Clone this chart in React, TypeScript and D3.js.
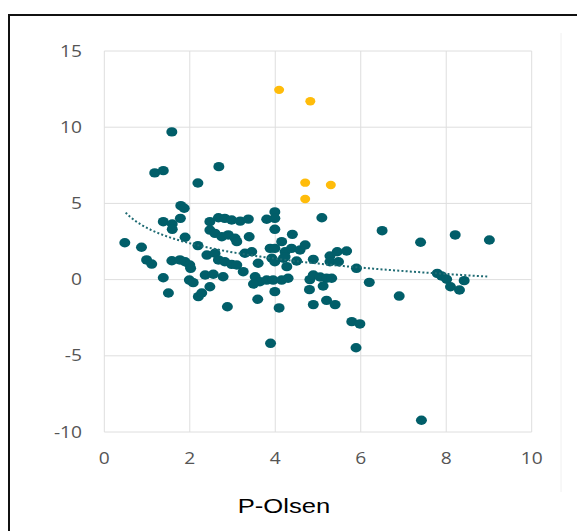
import React, { useRef, useEffect } from 'react';
import * as d3 from 'd3';

// P-Olsen (x) vs response (y)
const tealX = [
  0.48, 0.87, 0.99, 1.11, 1.18, 1.38, 1.38, 1.59, 1.59, 1.58, 1.38, 1.5, 1.58,
  1.77, 1.89, 2.0, 2.02, 1.79, 1.87, 1.78, 1.89, 2.19, 2.19, 1.99, 2.08, 2.2, 2.28,
  2.68, 2.47, 2.67, 2.82, 2.98, 3.18, 3.37, 2.47, 2.59, 2.75, 2.9, 3.06, 3.1, 3.39,
  2.4, 2.59, 2.67, 2.82, 2.98, 3.1, 3.25, 3.29, 3.45, 3.6, 2.36, 2.55, 2.78, 2.47,
  2.88, 3.53, 3.64, 3.49, 3.59,
  3.8, 3.99, 3.99, 3.99, 3.88, 3.99, 3.92, 4.15, 4.23, 4.19, 4.27, 4.4, 4.38, 4.23,
  4.5, 3.99, 3.8, 3.95, 4.15, 4.3, 3.99, 4.09, 3.89,
  4.58, 4.7, 4.89, 5.09, 5.28, 5.45, 5.67, 5.28, 5.48, 4.81, 4.89, 5.05, 5.2, 5.32,
  5.12, 4.8, 4.89, 5.2, 5.4, 5.9, 5.79, 5.98, 5.89, 6.2, 6.5, 6.9, 7.4, 7.79, 7.89,
  8.01, 8.1, 8.31, 8.42, 8.21, 9.01, 7.42,
];
const tealY = [
  2.42, 2.12, 1.29, 1.02, 7.0, 7.15, 3.8, 3.65, 3.3, 9.69, 0.12, -0.88, 1.24,
  1.29, 1.17, 0.96, 0.74, 4.85, 4.68, 4.02, 2.78, 2.23, 6.34, -0.03, -0.2, -1.12, -0.88,
  7.41, 3.8, 4.06, 4.02, 3.91, 3.84, 3.97, 3.25, 3.03, 2.81, 2.93, 2.71, 2.49, 2.81,
  1.61, 1.73, 1.29, 1.17, 1.0, 0.96, 0.52, 1.73, 1.83, 1.07, 0.3, 0.35, 0.19, -0.47,
  -1.78, 0.19, -0.14, -0.29, -1.29,
  3.96, 4.44, 4.02, 3.3, 2.05, 2.05, 1.4, 2.49, 1.83, 1.4, 0.85, 2.97, 2.05, 1.5,
  1.22, 1.17, -0.03, -0.03, -0.03, 0.09, -0.79, -1.86, -4.18,
  1.94, 2.27, 1.33, 4.06, 1.55, 1.83, 1.88, 1.17, 1.17, 0.0, 0.3, 0.17, 0.09, 0.09,
  -0.42, -0.66, -1.64, -1.36, -1.64, 0.74, -2.76, -2.91, -4.47, -0.18, 3.21, -1.08, 2.45, 0.41, 0.24,
  0.02, -0.47, -0.68, -0.07, 2.93, 2.6, -9.23,
];
const goldX = [4.09, 4.82, 4.7, 5.3, 4.7];
const goldY = [12.45, 11.7, 6.36, 6.21, 5.29];

const xTicks = [0, 2, 4, 6, 8, 10];
const yTicks = [-10, -5, 0, 5, 10, 15];
const xTitle = 'P-Olsen';

// log trendline y = a + b ln(x)
const trendA = 3.39;
const trendB = -1.453;
const trendRange = [0.5, 9];

const App = () => {
  const chartRef = useRef<SVGSVGElement>(null);
  const width = 577;
  const height = 531;

  useEffect(() => {
    const svg = d3.select(chartRef.current);
    svg.selectAll('*').remove();

    const xScale = d3.scaleLinear().domain([0, 10]).range([104.3, 531.7]);
    const yScale = d3.scaleLinear().domain([-10, 15]).range([432, 51]);

    svg.append('rect').attr('width', width).attr('height', height).attr('fill', '#fff');

    // faint chart-area edge on the right
    svg.append('line')
      .attr('x1', 561).attr('x2', 561).attr('y1', 33).attr('y2', 492)
      .attr('stroke', '#f0f0f0').attr('stroke-width', 1);

    // outer black frame
    svg.append('rect')
      .attr('x', 9).attr('y', 15).attr('width', 620).attr('height', 600)
      .attr('fill', 'none').attr('stroke', '#111').attr('stroke-width', 2);

    // grid
    svg.append('g').selectAll('line').data(xTicks).join('line')
      .attr('x1', (d) => xScale(d)).attr('x2', (d) => xScale(d))
      .attr('y1', yScale(15)).attr('y2', yScale(-10))
      .attr('stroke', '#dedede').attr('stroke-width', 1);
    svg.append('g').selectAll('line').data(yTicks).join('line')
      .attr('x1', xScale(0)).attr('x2', xScale(10))
      .attr('y1', (d) => yScale(d)).attr('y2', (d) => yScale(d))
      .attr('stroke', '#dedede').attr('stroke-width', 1);

    // tick labels (source image is stretched horizontally)
    const font = "'Open Sans', sans-serif";
    svg.append('g').selectAll('text').data(xTicks).join('text')
      .attr('transform', (d) => `translate(${xScale(d)},464) scale(1.2,1)`)
      .attr('text-anchor', 'middle')
      .attr('font-family', font).attr('font-size', 16).attr('fill', '#555')
      .text((d) => d);
    svg.append('g').selectAll('text').data(yTicks).join('text')
      .attr('transform', (d) => `translate(82,${yScale(d) + 5.5}) scale(1.2,1)`)
      .attr('text-anchor', 'end')
      .attr('font-family', font).attr('font-size', 16).attr('fill', '#555')
      .text((d) => d);

    // axis title
    svg.append('text')
      .attr('transform', 'translate(284,513) scale(1.22,1)')
      .attr('text-anchor', 'middle')
      .attr('font-family', "'Liberation Sans', Arial, sans-serif")
      .attr('font-size', 21).attr('fill', '#000')
      .text(xTitle);

    // points
    const teal = tealX.map((x, i) => ({ x, y: tealY[i] }));
    const gold = goldX.map((x, i) => ({ x, y: goldY[i] }));

    svg.append('g').selectAll('ellipse').data(teal).join('ellipse')
      .attr('cx', (d) => xScale(d.x)).attr('cy', (d) => yScale(d.y))
      .attr('rx', 5.5).attr('ry', 4.7)
      .attr('fill', '#015e69');

    svg.append('g').selectAll('ellipse').data(gold).join('ellipse')
      .attr('cx', (d) => xScale(d.x)).attr('cy', (d) => yScale(d.y))
      .attr('rx', 5).attr('ry', 4.2)
      .attr('fill', '#ffbc0a');

    // trendline
    const trendData = d3.range(trendRange[0], trendRange[1] + 0.001, 0.05);
    const line = d3.line<number>()
      .x((d) => xScale(d))
      .y((d) => yScale(trendA + trendB * Math.log(d)));
    svg.append('path').datum(trendData)
      .attr('d', line)
      .attr('fill', 'none')
      .attr('stroke', '#1f6b73')
      .attr('stroke-width', 2)
      .attr('stroke-dasharray', '2,2.2');
  }, []);

  return (
    <div style={{ position: 'absolute', left: 0, top: 0 }}>
      <svg ref={chartRef} width={width} height={height} style={{ display: 'block' }} />
    </div>
  );
};

export default App;
